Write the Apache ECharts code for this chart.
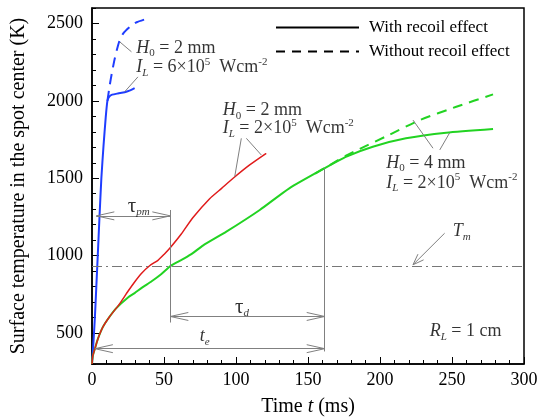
<!DOCTYPE html>
<html>
<head>
<meta charset="utf-8">
<script src="https://cdn.jsdelivr.net/npm/echarts@6/dist/echarts.min.js"></script>
<style>
  html, body { margin: 0; padding: 0; background: #fff; }
  #main { width: 541px; height: 419px; }
</style>
</head>
<body>
<div id="main"></div>
<script>
// tick labels
var xTicks = [0, 50, 100, 150, 200, 250, 300];
var yMajor = [500, 1000, 1500, 2000, 2500];

// H0 = 2 mm, IL = 6e5 W/cm2
var blueWith = [[0, 300], [1, 440], [2, 600], [3, 800], [4, 1000], [5.2, 1250], [6.5, 1500], [8, 1710], [9.5, 1890],
  [10.7, 2000], [12, 2028], [14, 2040], [18, 2048], [22.7, 2056], [26, 2066], [29.6, 2082]];
var blueWithout = [[10.7, 2000], [12.3, 2100], [13.8, 2180], [15.3, 2252], [17, 2320], [19.2, 2392], [22, 2440],
  [26.9, 2483], [31, 2508], [37.3, 2528]];
// H0 = 2 mm, IL = 2e5
var redWith = [[0, 300], [0.5, 350], [1.9, 395], [4.2, 465], [7.6, 540], [12.3, 607], [16.9, 661], [20, 700],
  [25, 770], [30, 835], [34.3, 885], [40, 935], [45.8, 970], [50, 1008], [54, 1048], [62, 1140], [70, 1245],
  [81.7, 1368], [90, 1435], [98, 1500], [109.5, 1586], [121, 1661]];
// H0 = 4 mm, IL = 2e5
var greenWith = [[0, 300], [0.5, 350], [1.9, 395], [4.2, 465], [7.6, 540], [12.3, 607], [16.9, 661], [25, 730],
  [29.6, 758], [35, 795], [41.2, 833], [48, 880], [54.6, 934], [60, 962], [64.4, 984], [70, 1016], [77, 1065],
  [93.3, 1155], [116.5, 1295], [137, 1435], [161.6, 1565], [176.7, 1640], [195, 1704], [218, 1758], [246, 1794],
  [278.5, 1818]];
var greenWithout = [[155, 1530], [161.6, 1566], [176.7, 1648], [186, 1690], [206.7, 1782], [227.6, 1876],
  [253, 1962], [278.5, 2042]];

var meltT = 932;
var tPm = 54.4, tE = 161.6;

var SERIF = '"Liberation Serif", "DejaVu Serif", serif';
var rich = {
  n: { fontFamily: SERIF, fontSize: 18, lineHeight: 22, color: '#000' },
  i: { fontFamily: SERIF, fontSize: 18, lineHeight: 22, color: '#000', fontStyle: 'italic' },
  t: { fontFamily: SERIF, fontSize: 21, lineHeight: 22, color: '#000' },
  sb: { fontFamily: SERIF, fontSize: 11, lineHeight: 11, color: '#000', verticalAlign: 'bottom' },
  sbi: { fontFamily: SERIF, fontSize: 11, lineHeight: 11, color: '#000', verticalAlign: 'bottom', fontStyle: 'italic' },
  sp: { fontFamily: SERIF, fontSize: 11, lineHeight: 11, color: '#000', verticalAlign: 'top' }
};

var notes = [
  { value: [30.8, 2341], text: '{i|H}{sb|0}{n| = 2 mm}' },
  { value: [30.8, 2218], text: '{i|I}{sbi|L}{n| = 6×10}{sp|5}{n|  Wcm}{sp|-2}' },
  { value: [90.8, 1940], text: '{i|H}{sb|0}{n| = 2 mm}' },
  { value: [90.8, 1824], text: '{i|I}{sbi|L}{n| = 2×10}{sp|5}{n|  Wcm}{sp|-2}' },
  { value: [204.4, 1599], text: '{i|H}{sb|0}{n| = 4 mm}' },
  { value: [204.4, 1470], text: '{i|I}{sbi|L}{n| = 2×10}{sp|5}{n|  Wcm}{sp|-2}' },
  { value: [250.5, 1155], text: '{i|T}{sbi|m}' },
  { value: [24.8, 1315], text: '{t|τ}{sbi|pm}' },
  { value: [99.3, 663], text: '{t|τ}{sbi|d}' },
  { value: [74.8, 478], text: '{i|t}{sbi|e}' },
  { value: [234.5, 510], text: '{i|R}{sbi|L}{n| = 1 cm}' }
];

// leader and dimension lines, in data units
var leaders = [
  [[27.4, 2317], [19.3, 2381]], [[31.9, 2155], [22.7, 2059]],
  [[103.7, 1758], [99.1, 1510]], [[107.2, 1758], [117.6, 1650]],
  [[236.8, 1694], [222.9, 1876]], [[241.5, 1683], [248.4, 1794]],
  [[244.9, 1145], [222.9, 941]],
  [[tPm, 1295], [tPm, 568]], [[tE, 1565], [tE, 381]],
  [[3, 1257], [tPm, 1257]], [[tPm, 607], [tE, 607]], [[2, 399], [tE, 399]]
];
// arrow heads: [tip, point on shaft, length px, spread px]
var heads = [
  [[222.9, 941], [244.9, 1145], 11, 4],
  [[3, 1257], [tPm, 1257], 18, 4], [[tPm, 1257], [3, 1257], 18, 4],
  [[tPm, 607], [tE, 607], 18, 4], [[tE, 607], [tPm, 607], 18, 4],
  [[2, 399], [tE, 399], 18, 4], [[tE, 399], [2, 399], 18, 4]
];

var chart = echarts.init(document.getElementById('main'));

function curve(name, data, color, dashed, width) {
  return {
    name: name, type: 'line', data: data, symbol: 'none', smooth: 0.2, silent: true,
    lineStyle: { color: color, width: width, type: dashed ? [10, 7] : 'solid' }
  };
}

function segLines(list) {
  return list.map(function (s) { return [{ coord: s[0] }, { coord: s[1] }]; });
}

function plain(v) { return String(v); }

var option = {
  animation: false,
  backgroundColor: '#fff',
  grid: { left: 92, right: 17, top: 8, bottom: 55, show: true, borderColor: '#000', borderWidth: 1.5,
    outerBoundsMode: 'none', containLabel: false },
  legend: {
    left: 270, top: 14, orient: 'vertical', itemWidth: 83, itemHeight: 14, itemGap: 7,
    selectedMode: false,
    itemStyle: { opacity: 0 },
    textStyle: { fontFamily: SERIF, fontSize: 17, color: '#000', padding: [0, 0, 0, 5] },
    data: ['With recoil effect', 'Without recoil effect']
  },
  xAxis: {
    type: 'value', min: 0, max: 300, interval: 50,
    name: 'Time {it|t} (ms)', nameLocation: 'middle', nameGap: 33,
    nameTextStyle: { fontFamily: SERIF, fontSize: 20, color: '#000',
      rich: { it: { fontFamily: SERIF, fontSize: 20, color: '#000', fontStyle: 'italic' } } },
    axisLine: { lineStyle: { color: '#000', width: 1.5 } },
    axisTick: { inside: true, length: 7, lineStyle: { color: '#000' } },
    minorTick: { show: true, splitNumber: 5, length: 4, lineStyle: { color: '#000' } },
    axisLabel: { fontFamily: SERIF, fontSize: 18, color: '#000', margin: 7,
      customValues: xTicks, formatter: plain },
    splitLine: { show: false }
  },
  yAxis: [{
    type: 'value', min: 300, max: 2600,
    name: 'Surface temperature in the spot center (K)', nameLocation: 'middle', nameGap: 63,
    nameTextStyle: { fontFamily: SERIF, fontSize: 20, color: '#000' },
    axisLine: { lineStyle: { color: '#000', width: 1.5 } },
    axisTick: { inside: true, length: 7, lineStyle: { color: '#000' }, customValues: yMajor },
    axisLabel: { fontFamily: SERIF, fontSize: 18, color: '#000', margin: 9, customValues: yMajor, formatter: plain },
    splitLine: { show: false }
  }, {
    type: 'value', min: 300, max: 2600, interval: 100, position: 'left',
    axisLine: { show: false },
    axisTick: { inside: true, length: 4, lineStyle: { color: '#000' } },
    axisLabel: { show: false },
    splitLine: { show: false }
  }],
  series: [
    { name: 'With recoil effect', type: 'line', data: [], symbol: 'none', lineStyle: { color: '#000', width: 1.5 }, itemStyle: { color: '#000' } },
    { name: 'Without recoil effect', type: 'line', data: [], symbol: 'none', lineStyle: { color: '#000', width: 1.5, type: [9, 7] }, itemStyle: { color: '#000' } },
    curve('blueWith', blueWith, '#1f3dff', false, 2),
    curve('blueWithout', blueWithout, '#1f3dff', true, 2),
    curve('greenWithout', greenWithout, '#22d322', true, 2),
    curve('greenWith', greenWith, '#22d322', false, 2),
    curve('redWith', redWith, '#e01b1b', false, 1.5),
    {
      id: 'notes', type: 'scatter', symbolSize: 0, silent: true, z: 5,
      data: notes.map(function (d) { return { value: d.value, text: d.text }; }),
      label: { show: true, position: 'right', distance: 0, rich: rich,
        formatter: function (p) { return p.data.text; } },
      markLine: {
        silent: true, symbol: ['none', 'none'], animation: false,
        label: { show: false },
        lineStyle: { color: '#808080', width: 1, type: 'solid' },
        data: [{ yAxis: meltT, lineStyle: { type: [10, 4, 2, 4], color: '#777' } }].concat(segLines(leaders))
      }
    }
  ]
};
chart.setOption(option);

// open chevron arrow heads, sized in pixels
function toPx(p) { return chart.convertToPixel({ xAxisIndex: 0, yAxisIndex: 0 }, p); }
function toData(p) { return chart.convertFromPixel({ xAxisIndex: 0, yAxisIndex: 0 }, p); }
var headSegs = [];
heads.forEach(function (h) {
  var tip = toPx(h[0]), from = toPx(h[1]);
  var dx = tip[0] - from[0], dy = tip[1] - from[1];
  var L = Math.sqrt(dx * dx + dy * dy); dx /= L; dy /= L;
  var bx = tip[0] - dx * h[2], by = tip[1] - dy * h[2];
  var nx = -dy * h[3], ny = dx * h[3];
  headSegs.push([h[0], toData([bx + nx, by + ny])]);
  headSegs.push([h[0], toData([bx - nx, by - ny])]);
});
chart.setOption({
  series: [{ id: 'notes', markLine: { data: option.series[7].markLine.data.concat(segLines(headSegs)) } }]
});
</script>
</body>
</html>
